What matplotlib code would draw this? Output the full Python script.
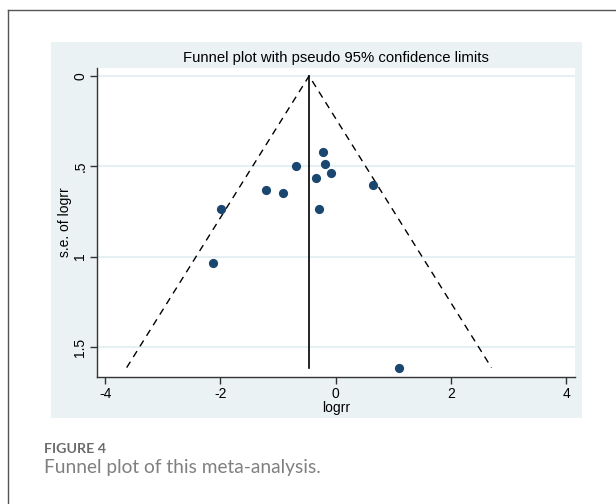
import matplotlib
matplotlib.use("Agg")
import matplotlib.pyplot as plt
from matplotlib.patches import Rectangle
from matplotlib.lines import Line2D

# Data
logrr = [-0.218, -0.188, -0.084, -0.346, -0.689, -1.208, -0.911, -1.993, -0.293, 0.649, 1.091, -2.120]
se_logrr = [0.422, 0.485, 0.538, 0.564, 0.501, 0.633, 0.647, 0.738, 0.736, 0.605, 1.614, 1.037]
pooled = -0.462
z95 = 1.96
xticks = [-4, -2, 0, 2, 4]
xticklabels = ["-4", "-2", "0", "2", "4"]
yticks = [0, 0.5, 1, 1.5]
yticklabels = ["0", ".5", "1", "1.5"]

plt.rcParams['font.family'] = ['Liberation Sans', 'DejaVu Sans']

fig = plt.figure(figsize=(6.16, 5.04), dpi=100)
fig.patch.set_facecolor("white")

# Stata-like outer background
fig.patches.append(Rectangle((51/616, 1-418/504), (582-51)/616, (418-42)/504,
                             transform=fig.transFigure, facecolor="#EAF2F3",
                             edgecolor="none", zorder=-5))
# Page frame lines
fig.lines.append(Line2D([8/616, 8/616], [0, 1-10/504], transform=fig.transFigure,
                        color="#555555", lw=1.0))
fig.lines.append(Line2D([8/616, 1], [1-10/504, 1-10/504], transform=fig.transFigure,
                        color="#555555", lw=1.0))

ax = fig.add_axes([97/616, 1-377/504, (575-97)/616, (377-68)/504])
ax.set_zorder(1)
ax.set_facecolor("white")

smax = max(se_logrr)
for y in yticks:
    ax.axhline(y, color="#E6EFF1", lw=1.5, zorder=1)

ax.plot([pooled - z95*smax, pooled, pooled + z95*smax], [smax, 0, smax],
        ls=(0, (5, 4)), color="black", lw=1.0, zorder=2)
ax.plot([pooled, pooled], [0, smax], color="black", lw=1.2, zorder=2)
ax.scatter(logrr, se_logrr, s=44, color="#1A476F", zorder=3, linewidths=0)

ax.set_xlim(-4.14, 4.15)
ax.set_ylim(1.666, -0.044)
ax.set_xticks(xticks)
ax.set_xticklabels(xticklabels)
ax.set_yticks(yticks)
ax.set_yticklabels(yticklabels, rotation=90, va="center")
for s in ["top", "right"]:
    ax.spines[s].set_visible(False)
for s in ["left", "bottom"]:
    ax.spines[s].set_color("#333333")
    ax.spines[s].set_linewidth(1.0)
ax.tick_params(axis="both", direction="out", length=5, width=1.0, color="#333333",
               labelsize=10, labelcolor="black")
ax.tick_params(axis="y", pad=2)
ax.tick_params(axis="x", pad=2)

ax.set_xlabel("logrr", fontsize=10, labelpad=0)
ax.set_ylabel("s.e. of logrr", fontsize=10, va="center")
ax.yaxis.set_label_coords(-0.066, 0.5)
ax.set_title("Funnel plot with pseudo 95% confidence limits", fontsize=10.7, pad=4)

fig.text(44/616, 1-453/504, "FIGURE 4", fontsize=10.3, color="#6b6b6b",
         fontweight="bold", family=["Lato", "DejaVu Sans"], va="baseline")
fig.text(44/616, 1-473/504, "Funnel plot of this meta-analysis.", fontsize=13.8,
         color="#808080", family=["Lato", "DejaVu Sans"], va="baseline")

fig.savefig("out.png", dpi=100)
